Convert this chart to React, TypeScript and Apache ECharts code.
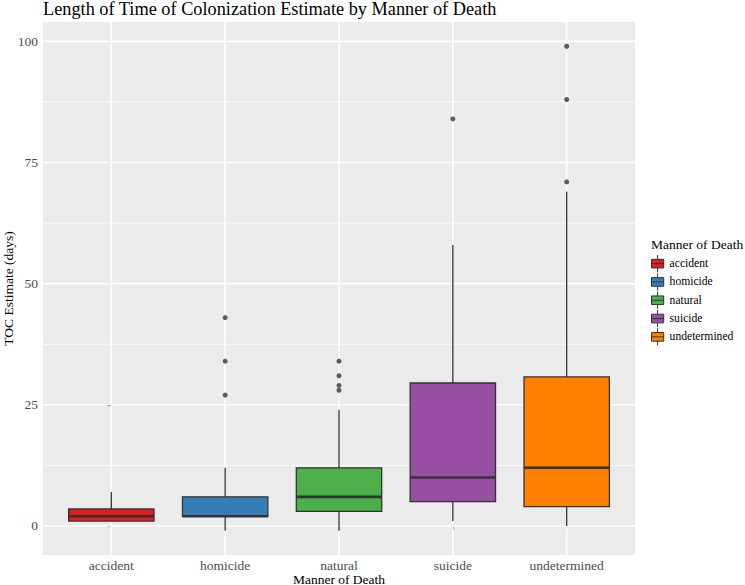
import React, { useEffect, useRef } from "react";
import * as echarts from "echarts";

const categories = ["accident", "homicide", "natural", "suicide", "undetermined"];
const colors = ["#E41A1C", "#377EB8", "#4DAF4A", "#984EA3", "#FF7F00"];
// [lower whisker, Q1, median, Q3, upper whisker]
const boxStats = [
  [1, 1, 2, 3.5, 7],
  [-1, 2, 2, 6, 12],
  [-1, 3, 6, 12, 24],
  [1, 5, 10, 29.5, 58],
  [0, 4, 12, 30.75, 69],
];
const outliers = [[], [27, 34, 43], [28, 29, 31, 34], [84], [71, 88, 99]];
const yTicks = [0, 25, 50, 75, 100];
const yMinorGrid = [12.5, 37.5, 62.5, 87.5];
const yMin = -6;
const yMax = 104;
const xMin = -0.6;
const xMax = 4.6;

const FONT = "'Liberation Serif', 'Times New Roman', serif";
const legendIcon =
  "path://M7,0 L7,4.25 M1,4.25 L13,4.25 L13,12.75 L1,12.75 Z M1,8.5 L13,8.5 M7,12.75 L7,17";

const renderBox = (params: any, api: any) => {
  const i = api.value(0);
  const half = api.size([0.75, 0])[0] / 2;
  const pMin = api.coord([i, api.value(1)]);
  const pQ1 = api.coord([i, api.value(2)]);
  const pMed = api.coord([i, api.value(3)]);
  const pQ3 = api.coord([i, api.value(4)]);
  const pMax = api.coord([i, api.value(5)]);
  const color = api.visual("color");
  const stroke = "#333333";
  return {
    type: "group",
    children: [
      {
        type: "line",
        shape: { x1: pQ3[0], y1: pQ3[1], x2: pMax[0], y2: pMax[1] },
        style: { stroke, lineWidth: 1.3 },
      },
      {
        type: "line",
        shape: { x1: pMin[0], y1: pMin[1], x2: pQ1[0], y2: pQ1[1] },
        style: { stroke, lineWidth: 1.3 },
      },
      {
        type: "rect",
        shape: { x: pQ3[0] - half, y: pQ3[1], width: 2 * half, height: pQ1[1] - pQ3[1] },
        style: { fill: color, stroke, lineWidth: 1.3 },
      },
      {
        type: "line",
        shape: { x1: pMed[0] - half, y1: pMed[1], x2: pMed[0] + half, y2: pMed[1] },
        style: { stroke, lineWidth: 2.6 },
      },
    ],
  };
};

const hGrid = (width: number) => (params: any, api: any) => {
  const v = api.value(1);
  const a = api.coord([xMin, v]);
  const b = api.coord([xMax, v]);
  return {
    type: "line",
    shape: { x1: a[0], y1: a[1], x2: b[0], y2: b[1] },
    style: { stroke: "#FFFFFF", lineWidth: width },
  };
};

const vGrid = (params: any, api: any) => {
  const i = api.value(0);
  const a = api.coord([i, yMin]);
  const b = api.coord([i, yMax]);
  return {
    type: "line",
    shape: { x1: a[0], y1: a[1], x2: b[0], y2: b[1] },
    style: { stroke: "#FFFFFF", lineWidth: 1.6 },
  };
};

export default function App() {
  const ref = useRef<HTMLDivElement>(null);
  useEffect(() => {
    if (!ref.current) return;
    const chart = echarts.init(ref.current, null, { renderer: "svg" });
    const boxSeries = categories.map((name, i) => ({
      type: "custom",
      name,
      itemStyle: { color: colors[i] },
      data: [[i, ...boxStats[i]]],
      encode: { x: 0, y: [1, 2, 3, 4, 5] },
      renderItem: renderBox,
      z: 3,
      silent: true,
    }));
    const outlierData: number[][] = [];
    outliers.forEach((arr, i) => arr.forEach((v) => outlierData.push([i, v])));

    chart.setOption({
      animation: false,
      backgroundColor: "#FFFFFF",
      title: [
        {
          text: "Length of Time of Colonization Estimate by Manner of Death",
          left: 43,
          top: 0,
          padding: 0,
          textStyle: { fontFamily: FONT, fontSize: 18.3, fontWeight: "normal", color: "#000000" },
        },
        {
          text: "Manner of Death",
          left: 651,
          top: 237,
          padding: 0,
          textStyle: { fontFamily: FONT, fontSize: 13.5, fontWeight: "normal", color: "#000000" },
        },
      ],
      legend: {
        data: categories,
        orient: "vertical",
        left: 651,
        top: 254.5,
        padding: 0,
        itemGap: 0,
        itemWidth: 14,
        itemHeight: 17.3,
        icon: legendIcon,
        itemStyle: { borderColor: "#333333", borderWidth: 1 },
        textStyle: { fontFamily: FONT, fontSize: 11.6, color: "#000000" },
        selectedMode: false,
      },
      grid: {
        left: 43,
        top: 22,
        right: 110,
        bottom: 30,
        outerBoundsMode: "none",
        containLabel: false,
        show: true,
        backgroundColor: "#EBEBEB",
        borderWidth: 0,
      },
      xAxis: {
        type: "value",
        min: xMin,
        max: xMax,
        name: "Manner of Death",
        nameLocation: "middle",
        nameGap: 17,
        nameMoveOverlap: false,
        nameTextStyle: { fontFamily: FONT, fontSize: 13.5, color: "#000000" },
        axisLine: { show: false },
        splitLine: { show: false },
        axisTick: {
          show: true,
          length: 4,
          customValues: [0, 1, 2, 3, 4],
          lineStyle: { color: "#333333", width: 1.1 },
        },
        axisLabel: {
          customValues: [0, 1, 2, 3, 4],
          formatter: (v: number) => categories[Math.round(v)] ?? "",
          margin: 3,
          fontFamily: FONT,
          fontSize: 13.5,
          color: "#4D4D4D",
        },
      },
      yAxis: {
        type: "value",
        min: yMin,
        max: yMax,
        name: "TOC Estimate (days)",
        nameLocation: "middle",
        nameGap: 28,
        nameMoveOverlap: false,
        nameTextStyle: { fontFamily: FONT, fontSize: 13.5, color: "#000000" },
        axisLine: { show: false },
        splitLine: { show: false },
        axisTick: {
          show: true,
          length: 4,
          customValues: yTicks,
          lineStyle: { color: "#333333", width: 1.1 },
        },
        axisLabel: {
          customValues: yTicks,
          margin: 5,
          fontFamily: FONT,
          fontSize: 13.5,
          color: "#4D4D4D",
        },
      },
      series: [
        {
          type: "custom",
          name: "minorGrid",
          data: yMinorGrid.map((v) => [0, v]),
          encode: { x: 0, y: 1 },
          renderItem: hGrid(0.8),
          z: 1,
          silent: true,
        },
        {
          type: "custom",
          name: "majorGrid",
          data: yTicks.map((v) => [0, v]),
          encode: { x: 0, y: 1 },
          renderItem: hGrid(1.6),
          z: 1,
          silent: true,
        },
        {
          type: "custom",
          name: "catGrid",
          data: categories.map((_, i) => [i, 0]),
          encode: { x: 0, y: 1 },
          renderItem: vGrid,
          z: 1,
          silent: true,
        },
        ...boxSeries,
        {
          type: "scatter",
          name: "outliers",
          data: outlierData,
          symbolSize: 5,
          itemStyle: { color: "#333333" },
          z: 4,
          silent: true,
        },
      ],
    });
    return () => chart.dispose();
  }, []);
  return <div ref={ref} style={{ width: 745, height: 585, position: "absolute", left: 0, top: 0 }} />;
}
